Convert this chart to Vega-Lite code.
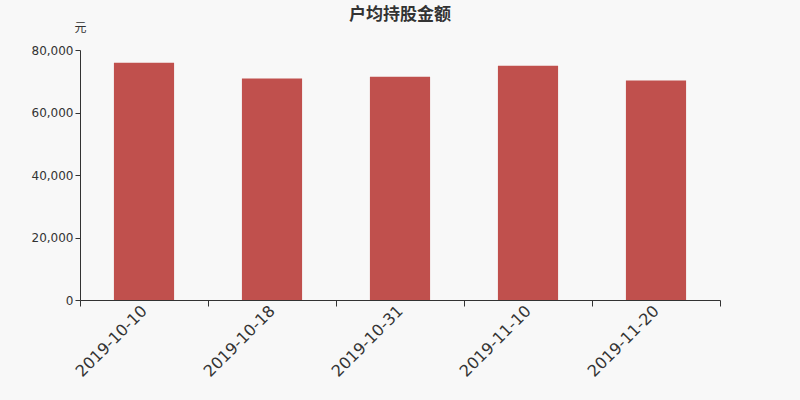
{
  "$schema": "https://vega.github.io/schema/vega-lite/v6.json",
  "width": 640,
  "height": 250,
  "autosize": {"type": "none"},
  "padding": {"left": 80, "top": 50, "right": 80, "bottom": 100},
  "background": "#f8f8f8",
  "title": {
    "text": "户均持股金额",
    "anchor": "middle",
    "frame": "group",
    "offset": -3,
    "fontSize": 17,
    "fontWeight": "bold",
    "color": "#333333",
    "font": "Noto Sans CJK SC"
  },
  "data": {
    "values": [
      {"date": "2019-10-10", "amount": 75950},
      {"date": "2019-10-18", "amount": 70850},
      {"date": "2019-10-31", "amount": 71480},
      {"date": "2019-11-10", "amount": 75000},
      {"date": "2019-11-20", "amount": 70210}
    ]
  },
  "mark": {"type": "bar", "color": "#c0504d", "width": {"band": 0.47}},
  "encoding": {
    "x": {
      "field": "date",
      "type": "nominal",
      "sort": null,
      "scale": {"paddingInner": 0, "paddingOuter": 0},
      "axis": {
        "title": null,
        "labelAngle": -45,
        "labelAlign": "right",
        "labelBaseline": "middle",
        "labelFontSize": 16,
        "labelColor": "#333333",
        "labelFont": "DejaVu Sans",
        "labelPadding": 2,
        "tickBand": "extent",
        "tickSize": 6,
        "tickColor": "#333333",
        "domainColor": "#333333"
      }
    },
    "y": {
      "field": "amount",
      "type": "quantitative",
      "scale": {"domain": [0, 80000], "nice": false},
      "axis": {
        "title": "元",
        "titleAngle": 0,
        "titleX": 0,
        "titleY": -16,
        "titleAlign": "center",
        "titleBaseline": "bottom",
        "titleFont": "Noto Sans CJK SC",
        "titleFontSize": 12,
        "titleFontWeight": "normal",
        "titleColor": "#333333",
        "values": [0, 20000, 40000, 60000, 80000],
        "format": ",d",
        "grid": false,
        "labelFontSize": 12,
        "labelColor": "#333333",
        "labelFont": "DejaVu Sans",
        "tickSize": 5,
        "tickColor": "#333333",
        "domainColor": "#333333"
      }
    }
  },
  "config": {"view": {"stroke": null}}
}
